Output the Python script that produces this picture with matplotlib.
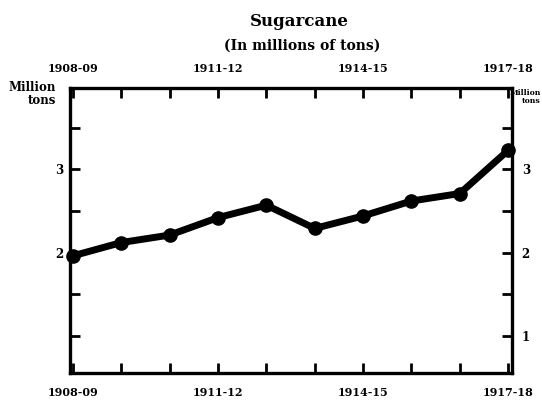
import matplotlib
matplotlib.use("Agg")
import matplotlib.pyplot as plt

years = ["1908-09", "1909-10", "1910-11", "1911-12", "1912-13",
         "1913-14", "1914-15", "1915-16", "1916-17", "1917-18"]
production = [1.96, 2.12, 2.21, 2.42, 2.57, 2.29, 2.44, 2.62, 2.71, 3.23]
label_years = ["1908-09", "1911-12", "1914-15", "1917-18"]
left_ticks = [2, 3]
right_ticks = [1, 2, 3]
minor_y = [1, 1.5, 2, 2.5, 3, 3.5]

plt.rcParams['font.family'] = ['DejaVu Serif']

fig = plt.figure(figsize=(5.42, 4.04), dpi=100)
ax = fig.add_axes([70/542, 1-373/404, (512-70)/542, (373-88)/404])

x = list(range(len(years)))
ax.plot(x, production, color='black', lw=5, marker='o', ms=9.5,
        solid_joinstyle='round', clip_on=False, zorder=3)

ax.set_xlim(-0.06, 9.08)
ax.set_ylim(0.55, 3.98)

for s in ax.spines.values():
    s.set_linewidth(2.4)

ax.set_xticks(x)
lab_idx = [years.index(y) for y in label_years]
ax.set_xticklabels([y if i in lab_idx else "" for i, y in enumerate(years)],
                   fontsize=8, fontweight='heavy')
ax.tick_params(axis='x', which='both', direction='in', length=7, width=2,
               top=True, labeltop=True, pad=10)

ax.set_yticks(minor_y)
ax.set_yticklabels([str(int(v)) if v in left_ticks else "" for v in minor_y],
                   fontsize=8.5, fontweight='heavy')
ax.tick_params(axis='y', direction='in', length=7, width=2, pad=5)

ax2 = ax.twinx()
ax2.set_ylim(ax.get_ylim())
ax2.set_yticks(minor_y)
ax2.set_yticklabels([str(int(v)) if v in right_ticks else "" for v in minor_y],
                    fontsize=8.5, fontweight='heavy')
ax2.tick_params(axis='y', direction='in', length=7, width=2, pad=7)
for s in ax2.spines.values():
    s.set_visible(False)

fig.text(0.552, 0.948, "Sugarcane", ha='center', va='center',
         fontsize=12, fontweight='heavy')
fig.text(0.558, 0.888, "(In millions of tons)", ha='center', va='center',
         fontsize=10, fontweight='heavy')
fig.text(56/542, 1-94/404, "Million\ntons", ha='right', va='center',
         fontsize=8.5, fontweight='heavy', linespacing=1.0)
fig.text(541/542, 1-97/404, "Million\ntons", ha='right', va='center',
         fontsize=5.6, fontweight='heavy', linespacing=1.0)

fig.savefig("out.png", dpi=100)
